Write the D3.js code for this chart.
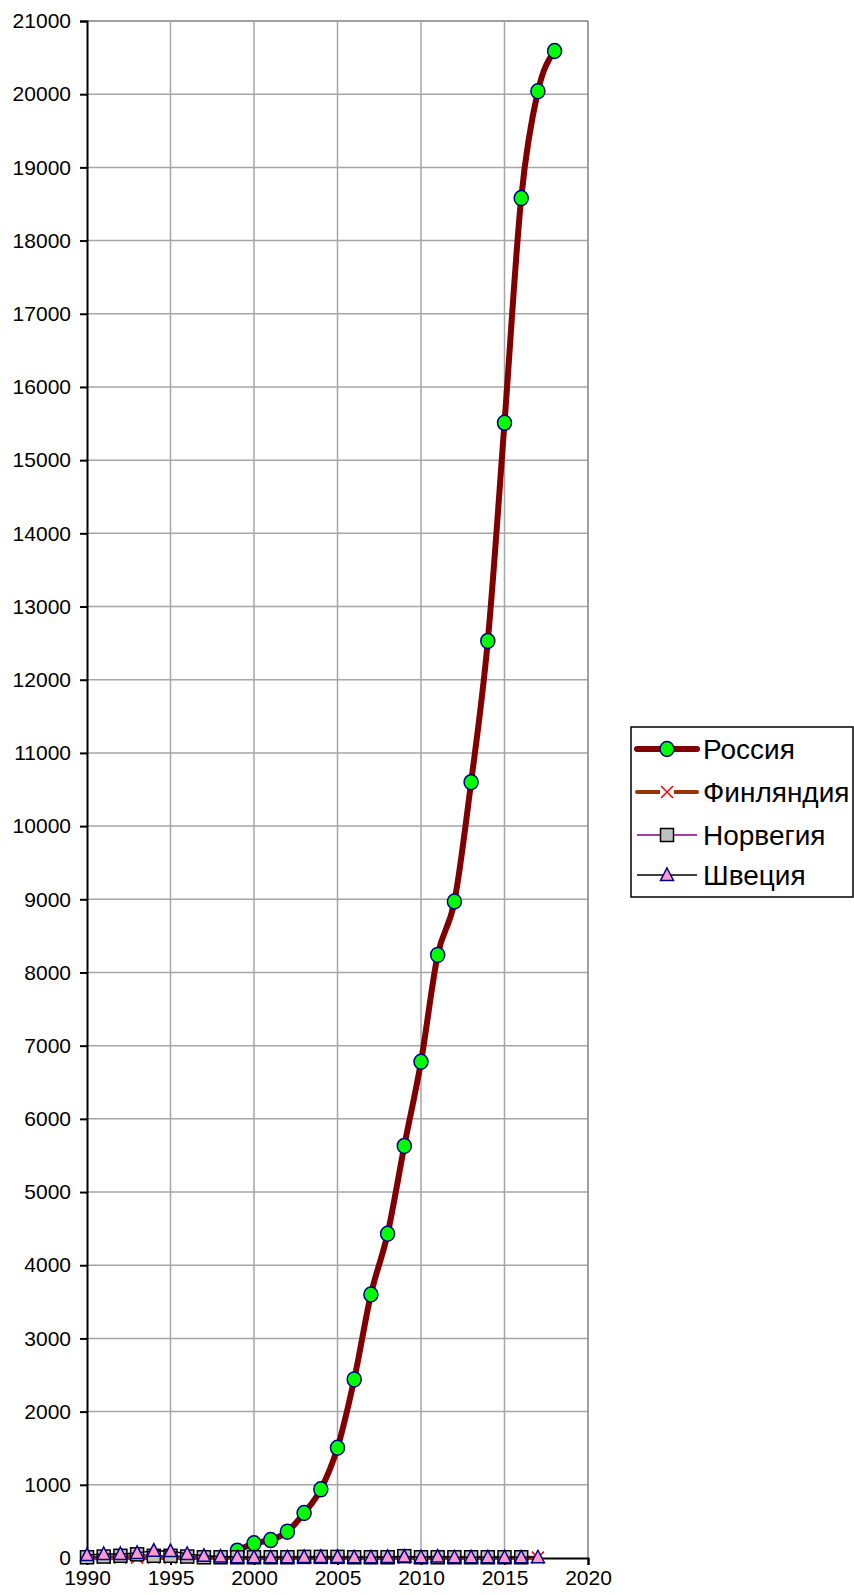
<!DOCTYPE html>
<html><head><meta charset="utf-8">
<script src="https://cdn.jsdelivr.net/npm/d3@7"></script>
<style>body{margin:0;background:#fff}svg{display:block}text{font-family:"Liberation Sans",Arial,sans-serif}</style>
</head><body>
<script>
const years = d3.range(1990, 2019);
const russiaYears = d3.range(1999, 2019);
const russia = [100, 200, 245, 360, 615, 938, 1507, 2440, 3600, 4430, 5630, 6780, 8240, 8970, 10600, 12530, 15510, 18580, 20040, 20590];
const finlandYears = d3.range(1990, 2018);
const finland = [5, 5, 5, 5, 5, 5, 5, 5, 5, 5, 5, 5, 5, 5, 5, 5, 5, 5, 5, 5, 5, 5, 5, 5, 5, 5, 5, 5];
const norwayYears = d3.range(1990, 2017);
const norway = [10, 20, 30, 50, 30, 30, 20, 10, 10, 10, 10, 10, 10, 15, 15, 15, 10, 10, 10, 25, 10, 10, 10, 10, 10, 10, 10];
const swedenYears = d3.range(1990, 2018);
const sweden = [40, 55, 55, 70, 100, 95, 55, 30, 20, 10, 10, 10, 10, 15, 15, 15, 10, 10, 15, 20, 10, 20, 10, 10, 10, 10, 10, 10];
const yTicks = d3.range(0, 21001, 1000);
const xTicks = d3.range(1990, 2021, 5);
const legendNames = ["Россия", "Финляндия", "Норвегия", "Швеция"];

const W = 854, H = 1595;
const svg = d3.select("body").append("svg").attr("width", W).attr("height", H);
const x = d3.scaleLinear().domain([1990, 2020]).range([87, 588]);
const y = d3.scaleLinear().domain([0, 21000]).range([1558, 21]);

// gridlines
const g = svg.append("g");
g.selectAll("line.h").data(yTicks.filter(d => d > 0)).join("line")
  .attr("x1", x(1990)).attr("x2", x(2020)).attr("y1", d => y(d)).attr("y2", d => y(d))
  .attr("stroke", d => d === 21000 ? "#808080" : "#a6a6a6").attr("stroke-width", 1.5);
g.selectAll("line.v").data(xTicks.filter(d => d > 1990)).join("line")
  .attr("x1", d => x(d)).attr("x2", d => x(d)).attr("y1", y(0)).attr("y2", y(21000))
  .attr("stroke", d => d === 2020 ? "#808080" : "#a6a6a6").attr("stroke-width", 1.5);

// axes
const yAxis = d3.axisLeft(y).tickValues(yTicks).tickSize(7).tickPadding(9).tickFormat(d3.format("d"));
const ya = svg.append("g").attr("transform", `translate(${x(1990)},0)`).call(yAxis);
ya.select(".domain").attr("stroke", "#000").attr("stroke-width", 2);
ya.selectAll(".tick line").attr("stroke", "#000").attr("stroke-width", 2);
ya.selectAll(".tick text").attr("font-size", 21).attr("fill", "#000").attr("font-family", '"Liberation Sans",Arial,sans-serif');
const xAxis = d3.axisBottom(x).tickValues(xTicks).tickSize(7).tickPadding(5).tickFormat(d3.format("d"));
const xa = svg.append("g").attr("transform", `translate(0,${y(0)})`).call(xAxis);
xa.select(".domain").attr("stroke", "#000").attr("stroke-width", 2);
xa.selectAll(".tick line").attr("stroke", "#000").attr("stroke-width", 2);
xa.selectAll(".tick text").attr("font-size", 21).attr("fill", "#000").attr("font-family", '"Liberation Sans",Arial,sans-serif');

const line = d3.line().x(d => x(d[0])).y(d => y(d[1]));
const smooth = d3.line().x(d => x(d[0])).y(d => y(d[1])).curve(d3.curveMonotoneX);
const zip = (a, b) => a.map((v, i) => [v, b[i]]);

const rus = zip(russiaYears, russia), fin = zip(finlandYears, finland), nor = zip(norwayYears, norway), swe = zip(swedenYears, sweden);

function circleM(sel, cx, cy) { sel.append("ellipse").attr("cx", cx).attr("cy", cy).attr("rx", 7).attr("ry", 7.5).attr("fill", "#00ff00").attr("stroke", "#000080").attr("stroke-width", 1.5); }
function crossM(sel, cx, cy) { sel.append("path").attr("d", `M${cx-6},${cy-6}L${cx+6},${cy+6}M${cx-6},${cy+6}L${cx+6},${cy-6}`).attr("stroke", "#ff0000").attr("stroke-width", 1.5).attr("fill", "none"); }
function squareM(sel, cx, cy) { sel.append("rect").attr("x", cx-6.5).attr("y", cy-6.5).attr("width", 13).attr("height", 13).attr("fill", "#c0c0c0").attr("stroke", "#000").attr("stroke-width", 1.5); }
function triM(sel, cx, cy) { sel.append("path").attr("d", `M${cx},${cy-7}L${cx+6.5},${cy+5.5}L${cx-6.5},${cy+5.5}Z`).attr("fill", "#ff99cc").attr("stroke", "#000080").attr("stroke-width", 1.5); }

// Russia
svg.append("path").attr("d", smooth(rus)).attr("fill", "none").attr("stroke", "#800000").attr("stroke-width", 6).attr("stroke-linejoin", "round");
const rg = svg.append("g"); rus.forEach(d => circleM(rg, x(d[0]), y(d[1])));
// Finland
svg.append("path").attr("d", line(fin)).attr("fill", "none").attr("stroke", "#993300").attr("stroke-width", 4);
const fg = svg.append("g"); fin.forEach(d => crossM(fg, x(d[0]), y(d[1])));
// Norway
svg.append("path").attr("d", line(nor)).attr("fill", "none").attr("stroke", "#800080").attr("stroke-width", 1.5);
const ng = svg.append("g"); nor.forEach(d => squareM(ng, x(d[0]), y(d[1])));
// Sweden
svg.append("path").attr("d", line(swe)).attr("fill", "none").attr("stroke", "#000").attr("stroke-width", 1.5);
const sg = svg.append("g"); swe.forEach(d => triM(sg, x(d[0]), y(d[1])));

// legend
const lg = svg.append("g");
lg.append("rect").attr("x", 631).attr("y", 727).attr("width", 222).attr("height", 170).attr("fill", "#fff").attr("stroke", "#000").attr("stroke-width", 1.5);
const ly = [749, 792, 835, 875];
const lstyles = [["#800000", 6], ["#993300", 4], ["#800080", 1.5], ["#000", 1.5]];
const markers = [circleM, crossM, squareM, triM];
legendNames.forEach((n, i) => {
  lg.append("line").attr("x1", 637).attr("x2", 697).attr("y1", ly[i]).attr("y2", ly[i]).attr("stroke", lstyles[i][0]).attr("stroke-width", lstyles[i][1]).attr("stroke-linecap", i < 2 ? "round" : "butt");
  if (i === 1) lg.append("rect").attr("x", 660).attr("y", ly[i]-7).attr("width", 14).attr("height", 14).attr("fill", "#fff");
  markers[i](lg, 667, ly[i]);
  lg.append("text").attr("x", 703).attr("y", ly[i] + 10).attr("font-size", 28).attr("fill", "#000").text(n);
});
</script>
</body></html>
